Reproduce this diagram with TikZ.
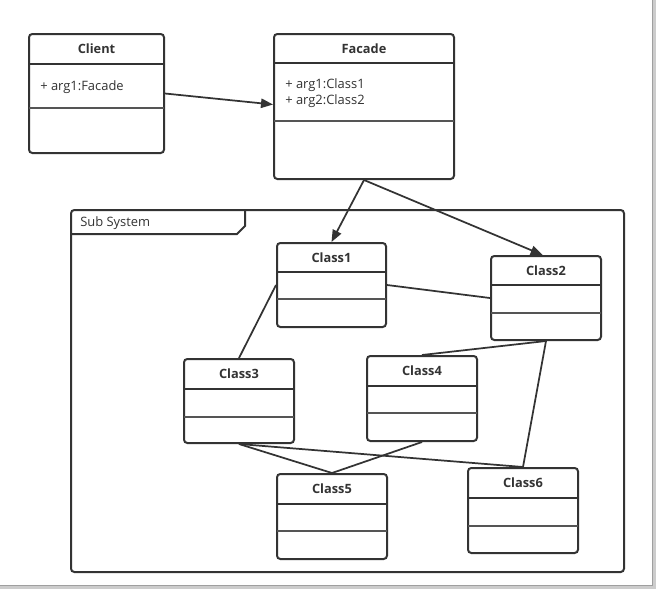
\documentclass[tikz,border=0pt]{standalone}
\usepackage{fontspec}
\setmainfont{Open Sans}
\usetikzlibrary{arrows.meta,fit,calc}
\definecolor{ink}{HTML}{333333}
\definecolor{sep}{HTML}{555555}
\tikzset{
  box/.style={draw=ink, line width=1.5pt, rounded corners=2.5pt, inner sep=0pt, fill=white},
  sepline/.style={draw=ink, line width=1.5pt},
  sepline2/.style={draw=sep, line width=1.2pt},
  ttl/.style={font=\bfseries\fontsize{9.6}{11}\selectfont, text=ink, inner sep=0pt},
  attr/.style={font=\fontsize{9.7}{11.5}\selectfont, text=ink, inner sep=0pt, anchor=west},
  conn/.style={draw=ink, line width=1.3pt},
  arr/.style={conn, -{Triangle[length=9pt,width=7pt]}},
}
\newcommand\umlbox[8]{%
  \node[box, fit={(#2,#3) (#4,#5)}] (#1) {};
  \draw[sepline] (#2,#6) -- (#4,#6);
  \draw[sepline2] (#2,#7) -- (#4,#7);
  \node[ttl] (#1t) at ({(#2+#4)/2},{(#3+#6)/2}) {#8};
}
\begin{document}
\begin{tikzpicture}[x=0.75pt,y=-0.75pt]
\useasboundingbox (0,0) rectangle (657,590);
% window shadow
\draw[gray!40, line width=2pt] (654.5,0) -- (654.5,587.5) -- (0,587.5);
\draw[gray!75, line width=1.1pt] (652.5,0) -- (652.5,585.5) -- (0,585.5);
% sub system frame
\draw[box] (71,210) rectangle (624,572);
\draw[sepline] (71,234) -- (237,234) -- (245,226) -- (245,210);
\node[attr] (subsys) at (80,223) {Sub System};
% classes
\umlbox{client}{29}{34}{164}{153}{64}{108}{Client}
\node[attr] (ca) at (40,87) {+ arg1:Facade};
\umlbox{facade}{274}{34}{454}{179}{63}{121}{Facade}
\node[attr] (fa1) at (285,85) {+ arg1:Class1};
\node[attr] (fa2) at (285,101) {+ arg2:Class2};
\umlbox{c1}{277}{243}{386}{327}{272}{299}{Class1}
\umlbox{c2}{491}{256}{601}{340}{285}{313}{Class2}
\umlbox{c3}{184}{359}{294}{443}{389}{417}{Class3}
\umlbox{c4}{367}{356}{477}{441}{386}{413}{Class4}
\umlbox{c5}{277}{474}{387}{559}{504}{531}{Class5}
\umlbox{c6}{468}{468}{578}{553}{498}{526}{Class6}
% connectors
\draw[arr] (client.east) -- ([yshift=1.5pt]facade.west);
\draw[arr] (facade.south) -- (c1.north);
\draw[arr] (facade.south) -- ([xshift=-2.5pt]c2.north);
\draw[conn] (c1.east) -- (c2.west);
\draw[conn] (c1.west) -- (c3.north);
\draw[conn] (c2.south) -- (c4.north);
\draw[conn] (c2.south) -- (c6.north);
\draw[conn] (c3.south) -- (c5.north);
\draw[conn] (c3.south) -- (c6.north);
\draw[conn] (c4.south) -- (c5.north);
\end{tikzpicture}
\end{document}
